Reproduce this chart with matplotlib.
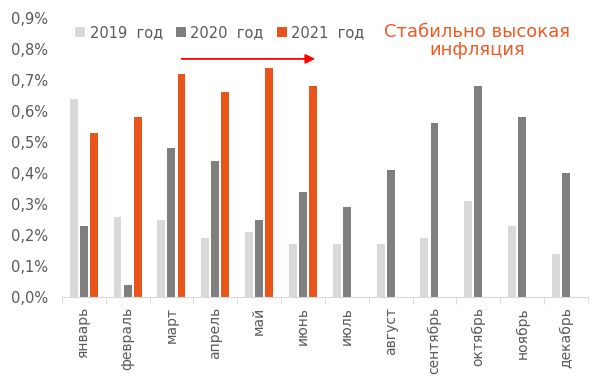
import numpy as np
import matplotlib
matplotlib.use("Agg")
import matplotlib.pyplot as plt

plt.rcParams["font.family"] = ["DejaVu Sans"]

# ---------------- data ----------------
months = ["январь", "февраль", "март", "апрель", "май", "июнь",
          "июль", "август", "сентябрь", "октябрь", "ноябрь", "декабрь"]

v2019 = [0.64, 0.26, 0.25, 0.19, 0.21, 0.17, 0.17, 0.17, 0.19, 0.31, 0.23, 0.14]
v2020 = [0.23, 0.04, 0.48, 0.44, 0.25, 0.34, 0.29, 0.41, 0.56, 0.68, 0.58, 0.40]
v2021 = [0.53, 0.58, 0.72, 0.66, 0.74, 0.68]

series_names = ["2019  год", "2020  год", "2021  год"]
colors = ["#D9D9D9", "#7F7F7F", "#E8541A"]
text_col = "#595959"

# ---------------- figure ----------------
fig = plt.figure(figsize=(6, 3.9), dpi=100)
ax = fig.add_axes([0.103, 0.238, 0.877, 0.716])

x = np.arange(len(months))
w = 0.18
step = 0.23

ax.bar(x - step, v2019, w, color=colors[0], label=series_names[0])
ax.bar(x, v2020, w, color=colors[1], label=series_names[1])
ax.bar(np.arange(len(v2021)) + step, v2021, w, color=colors[2], label=series_names[2])

ax.set_xlim(-0.5, len(months) - 0.5)
ax.set_ylim(0, 0.9)

ax.set_yticks(np.arange(0, 0.91, 0.1))
ax.set_yticklabels([("%.1f%%" % t).replace(".", ",") for t in np.arange(0, 0.91, 0.1)],
                   fontsize=10.5, color=text_col)
ax.tick_params(axis="y", length=0, pad=10)

ax.set_xticks(x)
ax.set_xticklabels(months, rotation=90, fontsize=10, color=text_col)
ax.set_xticks(np.arange(-0.5, len(months)), minor=True)
ax.tick_params(axis="x", which="major", length=0, pad=7)
ax.tick_params(axis="x", which="minor", length=5, color="#D9D9D9")

for s in ["top", "right", "left"]:
    ax.spines[s].set_visible(False)
ax.spines["bottom"].set_color("#D9D9D9")

ax.legend(loc="upper left", bbox_to_anchor=(0.0, 1.02), ncol=3, frameon=False,
          fontsize=10.5, labelcolor=text_col, handlelength=0.7, handleheight=0.7,
          handletextpad=0.3, columnspacing=0.9)

# arrow and comment
ax.annotate("", xy=(5.34, 0.768), xytext=(2.17, 0.768),
            arrowprops=dict(arrowstyle="-|>", color="#FF0000", lw=1.3,
                            mutation_scale=14))
ax.text(8.97, 0.826, "Стабильно высокая\nинфляция", ha="center", va="center",
        fontsize=13, color="#F05A22", linespacing=1.0)

fig.savefig("out.png", dpi=100)
